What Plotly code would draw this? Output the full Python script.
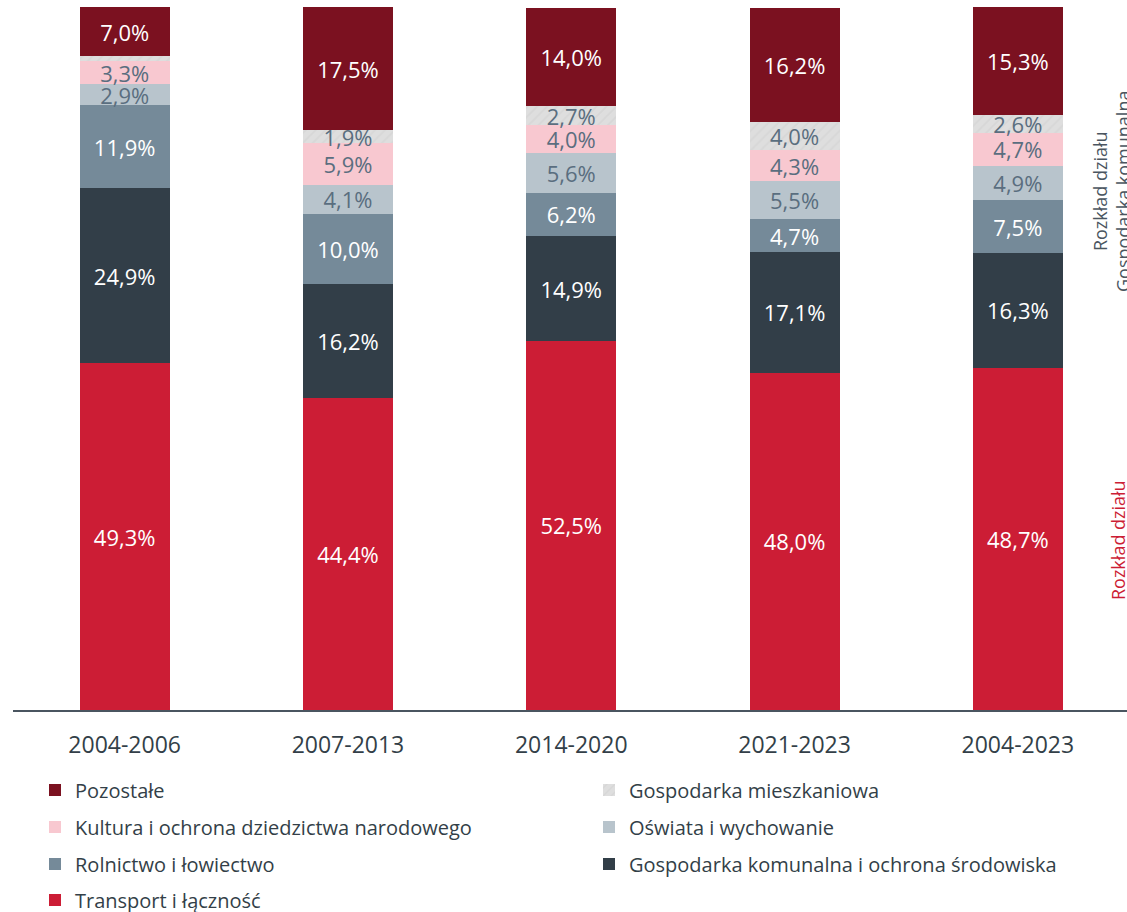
import plotly.graph_objects as go

categories = ["2004-2006", "2007-2013", "2014-2020", "2021-2023", "2004-2023"]

series_names = [
    "Transport i łączność",
    "Gospodarka komunalna i ochrona środowiska",
    "Rolnictwo i łowiectwo",
    "Oświata i wychowanie",
    "Kultura i ochrona dziedzictwa narodowego",
    "Gospodarka mieszkaniowa",
    "Pozostałe",
]

transport = [49.3, 44.4, 52.5, 48.0, 48.7]
gosp_komunalna = [24.9, 16.2, 14.9, 17.1, 16.3]
rolnictwo = [11.9, 10.0, 6.2, 4.7, 7.5]
oswiata = [2.9, 4.1, 5.6, 5.5, 4.9]
kultura = [3.3, 5.9, 4.0, 4.3, 4.7]
gosp_mieszkaniowa = [0.7, 1.9, 2.7, 4.0, 2.6]
pozostale = [7.0, 17.5, 14.0, 16.2, 15.3]

series_values = [transport, gosp_komunalna, rolnictwo, oswiata, kultura, gosp_mieszkaniowa, pozostale]

colors = ["#cc1d35", "#323e48", "#758a99", "#b8c4cc", "#f8c8d0", "#dcdcdc", "#7b1120"]
label_colors = ["#ffffff", "#ffffff", "#ffffff", "#5a6e7f", "#5a6e7f", "#5a6e7f", "#ffffff"]

# legend positions (pixel targets): square left x, row center y
legend_pos = {
    "Pozostałe": (48, 790),
    "Gospodarka mieszkaniowa": (602, 790),
    "Kultura i ochrona dziedzictwa narodowego": (48, 827),
    "Oświata i wychowanie": (602, 827),
    "Rolnictwo i łowiectwo": (48, 864),
    "Gospodarka komunalna i ochrona środowiska": (602, 864),
    "Transport i łączność": (48, 900),
}

W, H = 1127, 912
ML, MR, MT, MB = 13, 0, 7, 202
PW = W - ML - MR
PH = H - MT - MB
cat_px = 223.3

FONT = "Open Sans, Liberation Sans, sans-serif"


def fmt(v):
    return (f"{v:.1f}%".replace(".", ",")) if v >= 1 else ""


fig = go.Figure()
layout_legends = {}
for i, (name, vals, col, lcol) in enumerate(zip(series_names, series_values, colors, label_colors)):
    lg = "legend" if i == 0 else f"legend{i + 1}"
    marker = dict(color=col, line=dict(width=0))
    if name == "Gospodarka mieszkaniowa":
        marker["pattern"] = dict(shape="/", fgcolor="#cfcfcf", bgcolor="#dedede", size=7, solidity=0.25)
    fig.add_trace(go.Bar(
        x=categories, y=vals, name=name, marker=marker,
        text=[fmt(v) for v in vals], textposition="inside", insidetextanchor="middle",
        textangle=0, constraintext="none",
        textfont=dict(family=FONT, size=22, color=lcol),
        legend=lg, hoverinfo="skip",
    ))
    sx, sy = legend_pos[name]
    layout_legends[lg] = dict(
        x=(sx - 13 - ML) / PW, y=(MT + PH - sy) / PH,
        xanchor="left", yanchor="middle",
        font=dict(family=FONT, size=20, color="#333f48"),
        bgcolor="rgba(0,0,0,0)", borderwidth=0,
    )

fig.update_layout(
    barmode="stack",
    bargap=1 - 90 / cat_px,
    width=W, height=H,
    margin=dict(l=ML, r=MR, t=MT, b=MB, pad=0, autoexpand=False),
    paper_bgcolor="white", plot_bgcolor="white",
    showlegend=True,
    font=dict(family=FONT, color="#333f48"),
    xaxis=dict(
        range=[-0.5, -0.5 + PW / cat_px],
        showgrid=False, zeroline=False,
        showline=True, linecolor="#4a5560", linewidth=2,
        ticks="", ticklabelstandoff=13,
        tickfont=dict(family=FONT, size=23, color="#333f48"),
        fixedrange=True,
    ),
    yaxis=dict(range=[0, 100], visible=False, fixedrange=True),
    **layout_legends,
)

fig.add_annotation(
    text="Rozkład działu", xref="paper", yref="paper",
    x=(1118 - ML) / PW, y=(MT + PH - 540) / PH,
    textangle=-90, showarrow=False, xanchor="center", yanchor="middle",
    font=dict(family=FONT, size=18, color="#cc1d35"),
)
fig.add_annotation(
    text="Rozkład działu<br>Gospodarka komunalna", xref="paper", yref="paper",
    x=(1111 - ML) / PW, y=(MT + PH - 192) / PH,
    textangle=-90, showarrow=False, xanchor="center", yanchor="middle",
    font=dict(family=FONT, size=18, color="#4a5560"),
)

fig.write_html(
    "out.html",
    config={"displayModeBar": False},
    post_script="document.body.style.margin='0';document.body.style.overflow='hidden';",
)
